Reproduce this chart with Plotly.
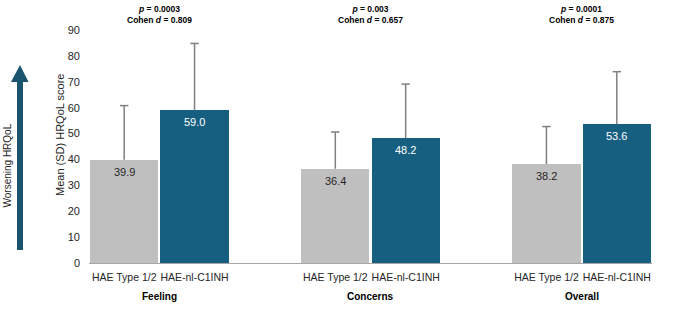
import plotly.graph_objects as go

categories = ["Feeling", "Concerns", "Overall"]
groups = ["HAE Type 1/2", "HAE-nl-C1INH"]
type12_mean = [39.9, 36.4, 38.2]
type12_sd = [20.9, 14.2, 14.5]
nl_mean = [59.0, 48.2, 53.6]
nl_sd = [25.8, 20.9, 20.3]
p_values = ["0.0003", "0.003", "0.0001"]
cohen_d = ["0.809", "0.657", "0.875"]

GREY = "#bfbfbf"
BLUE = "#175f80"
ARROW = "#1b546e"
ERR = "#7f7f7f"
FONT = "Liberation Sans, Arial, sans-serif"

x_grey = [3 * i for i in range(len(categories))]
x_blue = [3 * i + 1 for i in range(len(categories))]

fig = go.Figure()
for xs, means, color in [(x_grey, type12_mean, GREY), (x_blue, nl_mean, BLUE)]:
    fig.add_trace(go.Bar(x=xs, y=means, width=0.97, marker=dict(color=color, line=dict(width=0)),
                         hoverinfo="y"))

# error bars (upper only, cap at top)
for xs, means, sds in [(x_grey, type12_mean, type12_sd), (x_blue, nl_mean, nl_sd)]:
    lx, ly = [], []
    for x, m, s in zip(xs, means, sds):
        lx += [x, x, None]
        ly += [m, m + s, None]
    fig.add_trace(go.Scatter(x=lx, y=ly, mode="lines", line=dict(color=ERR, width=1.5),
                             hoverinfo="skip", cliponaxis=False))
    fig.add_trace(go.Scatter(x=xs, y=[m + s for m, s in zip(means, sds)], mode="markers",
                             marker=dict(symbol="line-ew-open", size=6, color=ERR,
                                         line=dict(color=ERR, width=1.5)),
                             hoverinfo="skip", cliponaxis=False))

W, H = 677, 311
L, R, T, B = 89, 25, 30, 48
pw, ph = W - L - R, H - T - B

def px(x):
    return (x - L) / pw

def py(y):
    return (H - B - y) / ph

annotations = []
for xs, means, col in [(x_grey, type12_mean, "#262626"), (x_blue, nl_mean, "#ffffff")]:
    for x, m in zip(xs, means):
        annotations.append(dict(x=x, y=m, xref="x", yref="y", text=f"{m:.1f}", showarrow=False,
                                yanchor="top", yshift=-4,
                                font=dict(size=11, color=col, family=FONT)))

for i, c in enumerate(categories):
    annotations.append(dict(x=3 * i + 0.5, xref="x", y=py(296), yref="paper",
                            text=f"<b>{c}</b>", showarrow=False, yanchor="middle",
                            font=dict(size=10, color="#000000", family=FONT)))
    annotations.append(dict(x=3 * i + 0.5, xref="x", y=py(14.5), yref="paper",
                            text=f"<b><i>p</i> = {p_values[i]}<br>Cohen <i>d</i> = {cohen_d[i]}</b>",
                            showarrow=False, yanchor="middle",
                            font=dict(size=8.5, color="#000000", family=FONT)))

annotations.append(dict(x=px(60), xref="paper", y=py(135), yref="paper",
                        text="Mean (SD) HRQoL score", textangle=-90, showarrow=False,
                        xanchor="center", yanchor="middle",
                        font=dict(size=11, color="#262626", family=FONT)))
annotations.append(dict(x=px(6.5), xref="paper", y=py(165), yref="paper",
                        text="Worsening HRQoL", textangle=-90, showarrow=False,
                        xanchor="center", yanchor="middle",
                        font=dict(size=10, color="#262626", family=FONT)))

shapes = [
    dict(type="rect", xref="paper", yref="paper", x0=px(17), x1=px(23), y0=py(250), y1=py(81),
         fillcolor=ARROW, line=dict(width=0)),
    dict(type="path", xref="paper", yref="paper",
         path=f"M {px(11)},{py(82)} L {px(20)},{py(65)} L {px(28.5)},{py(82)} Z",
         fillcolor=ARROW, line=dict(width=0)),
]

fig.update_layout(
    width=W, height=H,
    margin=dict(l=L, r=R, t=T, b=B, pad=0),
    paper_bgcolor="white", plot_bgcolor="white",
    showlegend=False, bargap=0,
    font=dict(family=FONT, color="#262626"),
    xaxis=dict(range=[-0.5, 7.5], tickvals=x_grey + x_blue, ticktext=[groups[0]] * 3 + [groups[1]] * 3,
               showgrid=False, zeroline=False, showline=True, linecolor="#a6a6a6", linewidth=1,
               ticks="", tickfont=dict(size=10.5, color="#262626"), ticklabelstandoff=4),
    yaxis=dict(range=[0, 90], tickvals=list(range(0, 91, 10)), showgrid=False, zeroline=False,
               showline=False, ticks="", tickfont=dict(size=11, color="#262626"), ticklabelstandoff=8),
    annotations=annotations, shapes=shapes,
)

fig.write_html("out.html")
